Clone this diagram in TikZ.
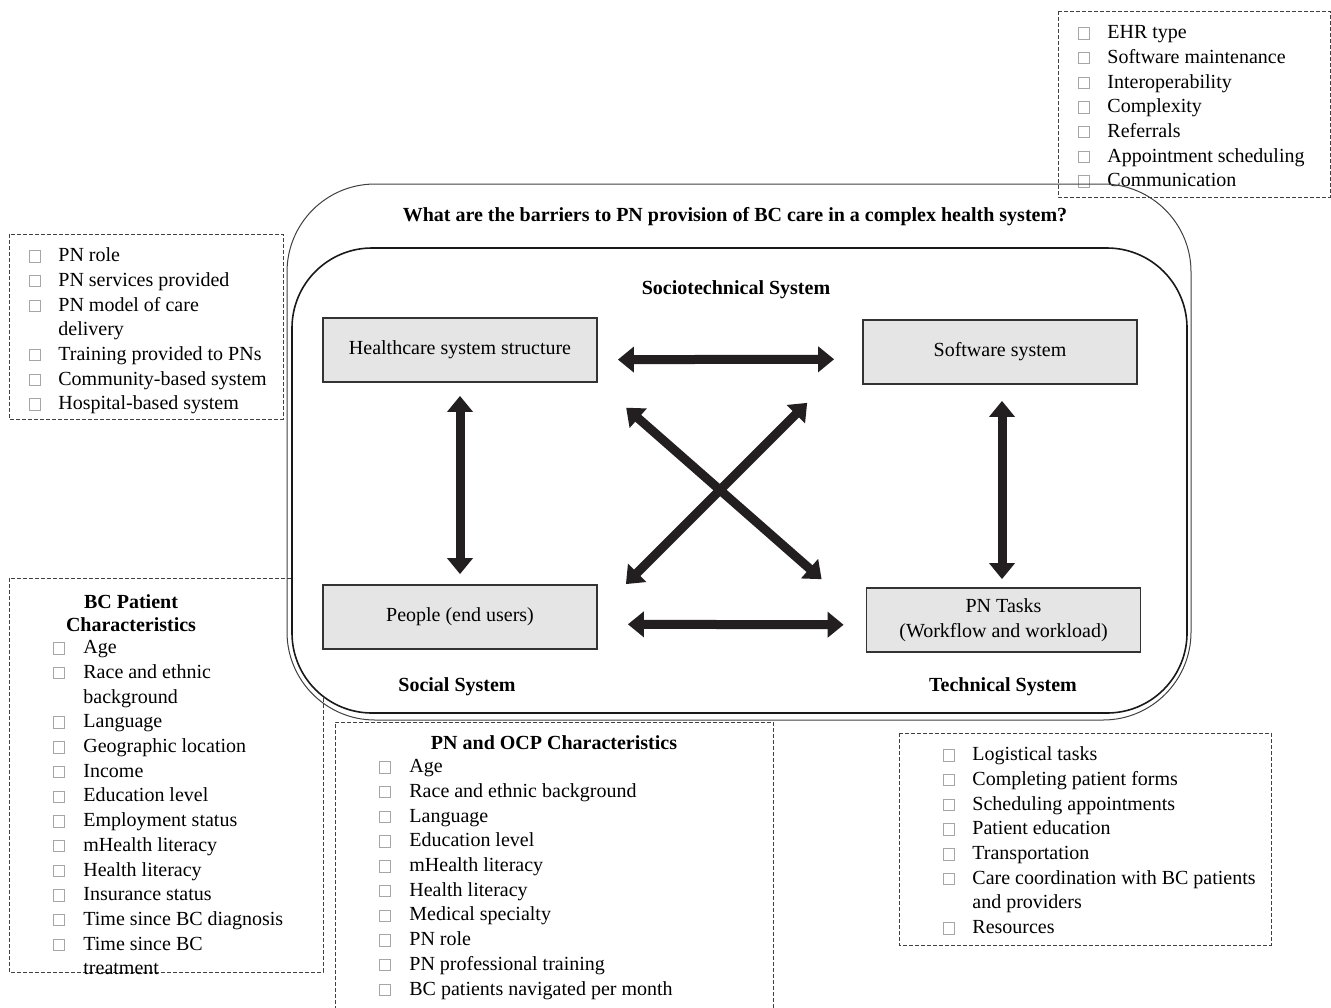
\documentclass[tikz,border=0pt]{standalone}
\usepackage{fontspec}
\setmainfont{Liberation Serif}
\usetikzlibrary{arrows.meta}
\definecolor{ink}{RGB}{35,31,32}
\newcommand{\sq}{{\color{black!35}\fboxsep=0pt\fboxrule=0.4pt\fbox{\rule{0pt}{5.3pt}\hspace{4.9pt}}}}

\begin{document}
\begin{tikzpicture}
  [x=0.5pt,y=-0.5pt,
   every node/.style={font=\fontsize{10}{12.35}\selectfont,inner sep=0pt},
   graybox/.style={draw=black!80,line width=0.9pt,fill=black!10,minimum width=137pt,minimum height=32pt,align=center},
   dashbox/.style={draw=black!75,line width=0.45pt,dash pattern=on 1.8pt off 1.2pt},
   lst/.style={anchor=north west,align=left},
   hd/.style={font=\fontsize{10}{11.5}\selectfont\bfseries,align=center},
   dbl/.style={ink,line width=4.5pt,{Triangle[width=12.5pt,length=8pt]}-{Triangle[width=12.5pt,length=8pt]}}]

  \useasboundingbox (0,0) rectangle (1331,1007);

  % factor lists round the system
  \draw[dashbox] (1058,11) rectangle (1330,197);
  \node[lst] (softlist) at (1078,21) {\begin{tabular}{@{}l@{\hspace{8.8pt}}l@{}}
    \sq & EHR type\\
    \sq & Software maintenance\\
    \sq & Interoperability\\
    \sq & Complexity\\
    \sq & Referrals\\
    \sq & Appointment scheduling\\
    \sq & Communication
  \end{tabular}};

  \draw[dashbox] (9,234) rectangle (283,419);
  \node[lst] (orglist) at (29,244) {\begin{tabular}{@{}l@{\hspace{8.8pt}}l@{}}
    \sq & PN role\\
    \sq & PN services provided\\
    \sq & PN model of care\\
        & delivery\\
    \sq & Training provided to PNs\\
    \sq & Community-based system\\
    \sq & Hospital-based system
  \end{tabular}};

  \draw[dashbox] (9,578) rectangle (323,972);
  \node[hd] (bchd) at (131,613) {BC Patient\\Characteristics};
  \node[lst] (bclist) at (53,636) {\begin{tabular}{@{}l@{\hspace{9.3pt}}l@{}}
    \sq & Age\\
    \sq & Race and ethnic\\
        & background\\
    \sq & Language\\
    \sq & Geographic location\\
    \sq & Income\\
    \sq & Education level\\
    \sq & Employment status\\
    \sq & mHealth literacy\\
    \sq & Health literacy\\
    \sq & Insurance status\\
    \sq & Time since BC diagnosis\\
    \sq & Time since BC\\
        & treatment
  \end{tabular}};

  \draw[dashbox] (335,1010) -- (335,722) -- (773,722) -- (773,1010);
  \node[hd] (pnhd) at (554,743) {PN and OCP Characteristics};
  \node[lst] (pnlist) at (379,755) {\begin{tabular}{@{}l@{\hspace{9.3pt}}l@{}}
    \sq & Age\\
    \sq & Race and ethnic background\\
    \sq & Language\\
    \sq & Education level\\
    \sq & mHealth literacy\\
    \sq & Health literacy\\
    \sq & Medical specialty\\
    \sq & PN role\\
    \sq & PN professional training\\
    \sq & BC patients navigated per month
  \end{tabular}};

  \draw[dashbox] (899,733) rectangle (1271,945);
  \node[lst] (tasklist) at (943,743) {\begin{tabular}{@{}l@{\hspace{8.8pt}}l@{}}
    \sq & Logistical tasks\\
    \sq & Completing patient forms\\
    \sq & Scheduling appointments\\
    \sq & Patient education\\
    \sq & Transportation\\
    \sq & Care coordination with BC patients\\
        & and providers\\
    \sq & Resources
  \end{tabular}};

  % health system frames
  \draw[black!75,line width=0.5pt,rounded corners=44pt] (287,184) rectangle (1191,720);
  \draw[black!90,line width=0.8pt,fill=white,rounded corners=40pt] (292,248) rectangle (1187,713);

  \node[hd] (question) at (735,217) {What are the barriers to PN provision of BC care in a complex health system?};
  \node[hd] (socio) at (736,290) {Sociotechnical System};
  \node[hd] (social) at (457,687) {Social System};
  \node[hd] (technical) at (1003,687) {Technical System};

  \node[graybox] (hss) at (460,350) {Healthcare system structure};
  \node[graybox] (sw) at (1000,352) {Software system};
  \node[graybox] (ppl) at (460,617) {People (end users)};
  \node[graybox] (tasks) at (1003.5,620) {PN Tasks\\(Workflow and workload)};

  \foreach \a/\b/\s/\e in {hss.-4/sw.183/10pt/14pt, ppl.-3/tasks.182/15pt/11pt,
                          hss.south/ppl.north/6.5pt/5pt}
    \draw[dbl,shorten <=\s,shorten >=\e] (\a) -- (\b);
  \draw[dbl,shorten <=8pt,shorten >=4pt] ([xshift=1pt]sw.south) -- ([xshift=-0.75pt]tasks.north);
  \draw[dbl,shorten <=18.8pt,shorten >=6pt] (hss.south east) -- ([xshift=-17.5pt]tasks.north west);
  \draw[dbl,shorten <=12.7pt] ([xshift=-18.5pt]sw.south west) -- ([xshift=14pt]ppl.north east);

\end{tikzpicture}
\end{document}
